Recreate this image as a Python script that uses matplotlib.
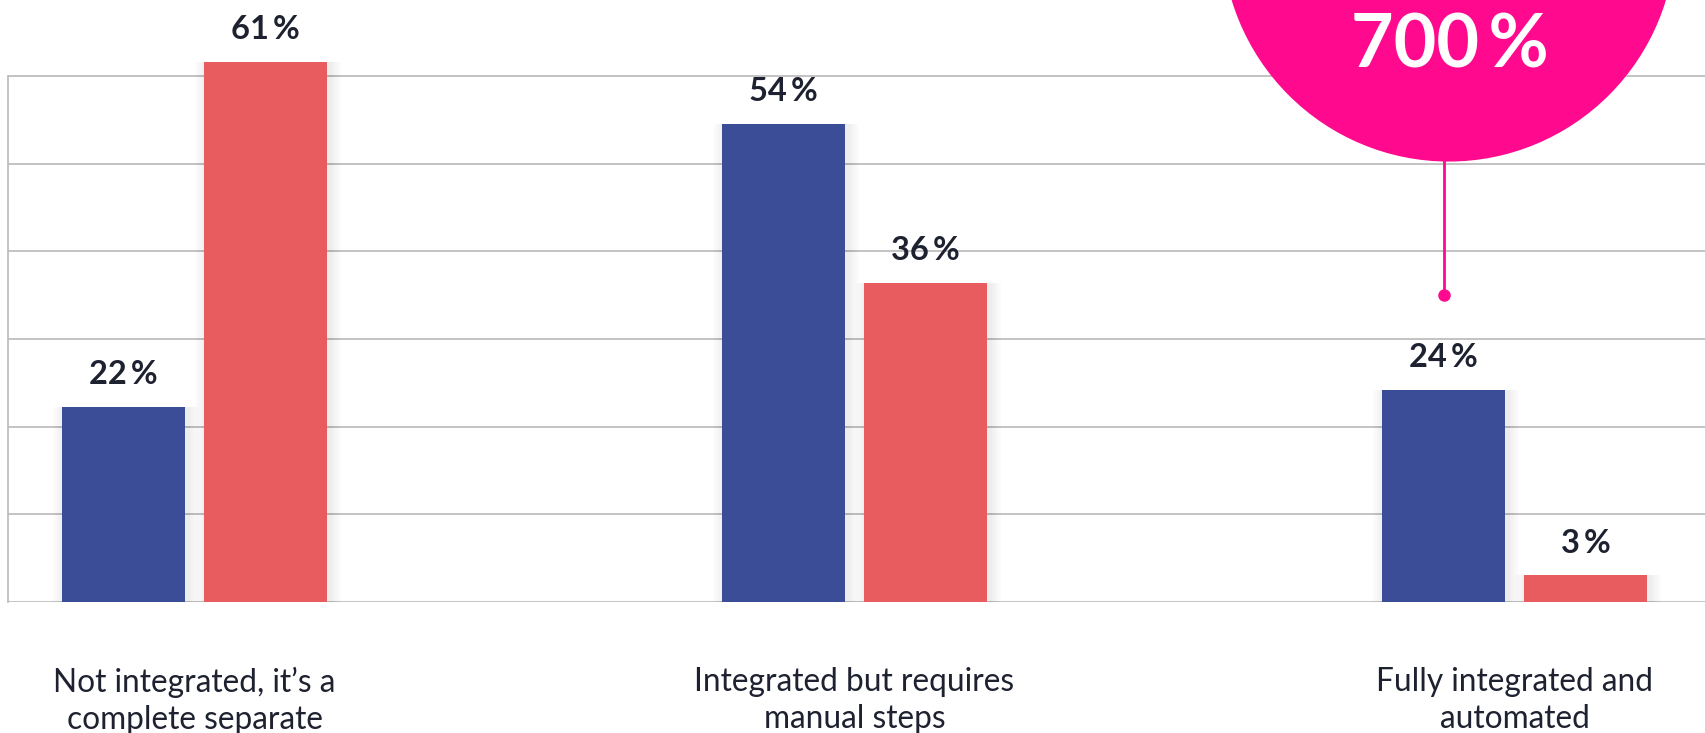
import matplotlib
matplotlib.use("Agg")
import matplotlib.pyplot as plt
from matplotlib.patches import Ellipse
import numpy as np

# data
categories = ["Not integrated, it\u2019s a\ncomplete separate",
              "Integrated but requires\nmanual steps",
              "Fully integrated and\nautomated"]
series_blue = [22, 54, 24]
series_red = [61, 36, 3]
callout_text = "700\u2009%"

blue = "#3b4d96"
red = "#e85c5f"
pink = "#ff0a8f"
ink = "#1e2130"
grid_col = "#b9b9b9"

fam = ["Lato", "DejaVu Sans"]

fig = plt.figure(figsize=(17.05, 7.33), dpi=100)
ax = fig.add_axes([8 / 1705, 131 / 733, 1697 / 1705, 602 / 733])

x = np.arange(len(categories))
w = 0.186
off = 0.1076

# soft shadow behind bars
for k in range(1, 7):
    ax.bar(x - off + 0.004, series_blue, width=w + 0.006 * k, color="black",
           alpha=0.012, zorder=2, linewidth=0)
    ax.bar(x + off + 0.004, series_red, width=w + 0.006 * k, color="black",
           alpha=0.012, zorder=2, linewidth=0)

bb = ax.bar(x - off, series_blue, width=w, color=blue, zorder=3, linewidth=0)
br = ax.bar(x + off, series_red, width=w, color=red, zorder=3, linewidth=0)

for bars in (bb, br):
    for r in bars:
        ax.annotate(f"{r.get_height():g}\u2009%",
                    (r.get_x() + r.get_width() / 2, r.get_height()),
                    xytext=(0, 16.5), textcoords="offset points",
                    ha="center", va="baseline", fontsize=23.5,
                    fontweight="bold", color=ink, family=fam)

ax.set_xlim(-0.2826, 2.2886)
ax.set_ylim(0, 68)
ax.set_yticks(np.arange(0, 61, 10) * 0.99)
ax.yaxis.grid(True, color=grid_col, linewidth=1.2, zorder=0)
ax.set_axisbelow(True)
ax.tick_params(left=False, bottom=False, labelleft=False, labelbottom=False)
for s in ("top", "right", "bottom"):
    ax.spines[s].set_visible(False)
ax.spines["left"].set_color(grid_col)
ax.spines["left"].set_linewidth(1.2)
ax.spines["left"].set_bounds(0, 59.4)
ax.axhline(0, color="#c6c6c6", linewidth=2.2, zorder=1)

# category labels
for xi, lab in zip(x, categories):
    ax.text(xi, -7.3, lab, ha="center", va="top", fontsize=22.8,
            color=ink, family=fam, linespacing=1.3)

# pink callout
cx = x[2] - off
circ = Ellipse((cx + 0.008, 75.5), width=0.688, height=51.5, facecolor=pink,
               edgecolor="none", zorder=5, clip_on=False)
ax.add_patch(circ)
ax.plot([cx, cx], [34.7, 52], color=pink, linewidth=2, zorder=4, clip_on=False)
ax.plot([cx], [34.7], "o", color=pink, markersize=8, zorder=4)
ax.text(cx + 0.01, 60.4, callout_text, ha="center", va="baseline",
        fontsize=53, fontweight="bold", color="white", family=fam,
        zorder=6, clip_on=False)

fig.savefig("out.png", dpi=100)
